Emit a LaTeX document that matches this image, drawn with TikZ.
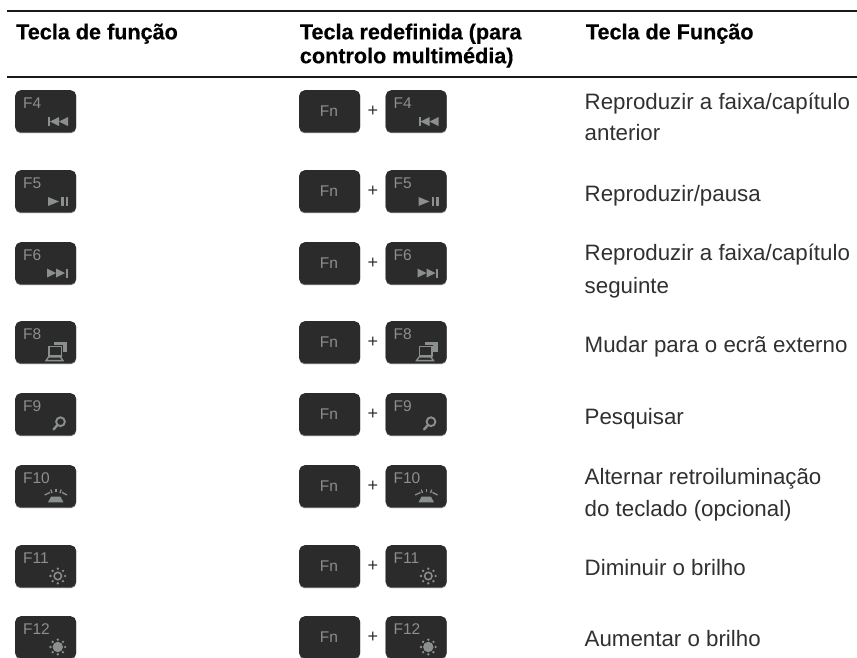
\documentclass[tikz,border=0pt]{standalone}
\usepackage{fontspec}
\setmainfont{Liberation Sans}
\usetikzlibrary{calc}
\definecolor{keyfill}{HTML}{2B2B2B}
\definecolor{keyedge}{HTML}{6E6E6E}
\definecolor{keyink}{HTML}{8C8F90}
\definecolor{bodyink}{HTML}{303030}
\tikzset{
  keybox/.style={anchor=north west,inner sep=0pt,minimum width=61pt,minimum height=42pt,fill=keyfill,rounded corners=5.5pt,
    preaction={fill=keyedge,transform canvas={yshift=-1pt}}},
  keytext/.style={anchor=base west,inner sep=0pt,text=keyink,font=\fontsize{15.5}{15.5}\selectfont},
  fntext/.style={anchor=base,inner sep=0pt,text=keyink,font=\fontsize{15.5}{15.5}\selectfont},
  plustext/.style={anchor=center,inner sep=0pt,text=bodyink,font=\fontsize{18}{18}\selectfont},
  headtext/.style={anchor=base west,inner sep=0pt,text=black,font=\bfseries\fontsize{21.6}{21.6}\selectfont\addfontfeature{FakeBold=0.4}},
  bodytext/.style={anchor=base west,inner sep=0pt,text=bodyink,font=\fontsize{22.3}{22.3}\selectfont},
  rule/.style={line width=2.3pt,draw=black!90},
  ink/.style={fill=keyink,draw=none},
  inkline/.style={draw=keyink,fill=none,line width=1.3pt},
}
% icons: drawn in key-local coordinates
\newcommand{\icoprev}{%
  \fill[ink] (33,27) rectangle (35,36);
  \fill[ink] (35,31.5) -- (44,27) -- (44,36) -- cycle;
  \fill[ink] (44,31.5) -- (53,27) -- (53,36) -- cycle;}
\newcommand{\icoplay}{%
  \fill[ink] (33,27) -- (44,31.5) -- (33,36) -- cycle;
  \fill[ink] (46,27) rectangle (48.5,36);
  \fill[ink] (50.5,27) rectangle (53,36);}
\newcommand{\iconext}{%
  \fill[ink] (32,26.5) -- (41,31) -- (32,35.5) -- cycle;
  \fill[ink] (41,26.5) -- (50,31) -- (41,35.5) -- cycle;
  \fill[ink] (50.5,26.5) rectangle (52.5,35.5);}
\newcommand{\icoscreen}{%
  \fill[ink] (39,20.7) rectangle (52,30.7);
  \fill[keyfill] (32.5,24) rectangle (47.8,36.5);
  \draw[inkline] (34,25.5) rectangle (46.5,35);
  \draw[inkline] (31,39.6) -- (33.5,36) -- (45.5,36) -- (48,39.6) -- cycle;}
\newcommand{\icosearch}{%
  \draw[draw=keyink,line width=1.9pt] (45.5,28.7) circle (4.4);
  \draw[draw=keyink,line width=2.4pt,line cap=round] (42.2,32.3) -- (38.6,36.4);}
\newcommand{\icolamp}{%
  \fill[ink] (33,37.3) -- (36,31.7) -- (45.5,31.7) -- (48.5,37.3) -- cycle;
  \draw[inkline] (29.7,30) -- (35,27.4);
  \draw[inkline] (37,28) -- (35.8,24.6);
  \draw[inkline] (41,27.4) -- (41,23.8);
  \draw[inkline] (45,28) -- (46.2,24.6);
  \draw[inkline] (52,30) -- (47,27.4);}
\newcommand{\icosunrays}{%
  \foreach \a in {0,45,...,315}{\fill[ink] ($(42.8,31)+(\a:7.3)$) circle (1.3);}}
\newcommand{\icodim}{\draw[draw=keyink,line width=1.5pt] (42.8,31) circle (3.7);\icosunrays}
\newcommand{\icobright}{\fill[ink] (42.8,31) circle (5.2);\icosunrays}
% \keycap{node name}{x}{y}{label}{icon}
\newcommand{\keycap}[5]{%
  \node[keybox] (#1) at (#2,#3) {};
  \node[keytext] (#1t) at ($(#1.north west)+(7.9,18.3)$) {#4};
  \begin{scope}[shift={(#2,#3)}]#5\end{scope}}
% \keyrow{id}{y}{label}{icon}
\newcommand{\keyrow}[4]{%
  \keycap{a#1}{15}{#2}{#3}{#4}
  \node[keybox] (fn#1) at (299,#2) {};
  \node[fntext] (fnt#1) at ($(fn#1.north west)+(30,26.8)$) {Fn};
  \keycap{b#1}{385.5}{#2}{#3}{#4}
  \node[plustext] (plus#1) at ($(fn#1.east)!0.5!(b#1.west)$) {+};}
\begin{document}
\begin{tikzpicture}[x=1pt,y=-1pt]
\useasboundingbox (0,0) rectangle (857,657);
\coordinate (t1) at (7,11); \coordinate (t2) at (857,11);
\coordinate (m1) at (7,77.3); \coordinate (m2) at (857,77.3);
\draw[rule] (t1) -- (t2);
\draw[rule] (m1) -- (m2);
\node[headtext] (h1) at (16,39.3) {Tecla de função};
\node[headtext] (h2a) at (299.7,39.3) {Tecla redefinida (para};
\node[headtext] (h2b) at (299.7,63.2) {controlo multimédia)};
\node[headtext] (h3) at (585.7,39.3) {Tecla de Função};
\keyrow{4}{90}{F4}{\icoprev}
\keyrow{5}{170}{F5}{\icoplay}
\keyrow{6}{242}{F6}{\iconext}
\keyrow{8}{321}{F8}{\icoscreen}
\keyrow{9}{393}{F9}{\icosearch}
\keyrow{10}{465}{F10}{\icolamp}
\keyrow{11}{545}{F11}{\icodim}
\keyrow{12}{616}{F12}{\icobright}
\node[bodytext] (d1a) at (584.5,109) {Reproduzir a faixa/capítulo};
\node[bodytext] (d1b) at (584.5,140.7) {anterior};
\node[bodytext] (d2) at (584.5,201) {Reproduzir/pausa};
\node[bodytext] (d3a) at (584.5,260.7) {Reproduzir a faixa/capítulo};
\node[bodytext] (d3b) at (584.5,293.3) {seguinte};
\node[bodytext] (d4) at (584.5,352.3) {Mudar para o ecrã externo};
\node[bodytext] (d5) at (584.5,424) {Pesquisar};
\node[bodytext] (d6a) at (584.5,484) {Alternar retroiluminação};
\node[bodytext] (d6b) at (584.5,516.5) {do teclado (opcional)};
\node[bodytext] (d7) at (584.5,575.7) {Diminuir o brilho};
\node[bodytext] (d8) at (584.5,646) {Aumentar o brilho};
\end{tikzpicture}
\end{document}
